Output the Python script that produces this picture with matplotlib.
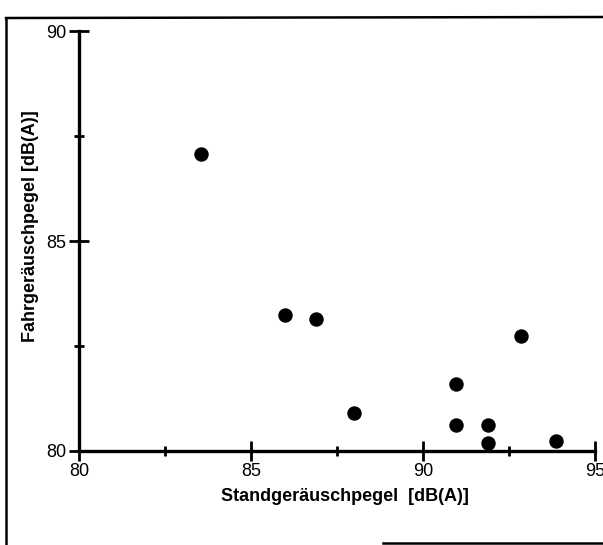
import matplotlib.pyplot as plt
from matplotlib.lines import Line2D

plt.rcParams['font.family'] = ['Liberation Sans', 'DejaVu Sans']

# Standgeräuschpegel vs. Fahrgeräuschpegel, dB(A)
stand = [83.55, 86.0, 86.9, 88.0, 90.95, 90.95, 91.9, 91.9, 92.85, 93.85]
fahr = [87.07, 83.24, 83.15, 80.9, 81.6, 80.62, 80.62, 80.2, 82.74, 80.24]

fig = plt.figure(figsize=(6.03, 5.45), dpi=100)
ax = fig.add_axes([0.131, 0.1725, 0.856, 0.7705])

ax.scatter(stand, fahr, s=88, color='black', zorder=3, clip_on=False)

ax.set_xlim(80, 95)
ax.set_ylim(80, 90)
ax.set_xticks([80, 85, 90, 95])
ax.set_yticks([80, 85, 90])
ax.set_xticks([82.5, 87.5, 92.5], minor=True)
ax.set_yticks([82.5, 87.5], minor=True)

for s in ['top', 'right']:
    ax.spines[s].set_visible(False)
for s in ['left', 'bottom']:
    ax.spines[s].set_linewidth(2.4)

ax.tick_params(which='major', direction='inout', length=14, width=2, labelsize=13, pad=2)
ax.tick_params(which='minor', direction='inout', length=7, width=2)

ax.set_xlabel('Standgeräuschpegel  [dB(A)]', fontsize=13, fontweight='bold')
ax.set_ylabel('Fahrgeräuschpegel [dB(A)]', fontsize=13, fontweight='bold')
ax.xaxis.set_label_coords(0.515, -0.088)
ax.yaxis.set_label_coords(-0.078, 0.536)

# frame of the scanned figure
fig.add_artist(Line2D([6/603, 6/603], [0, 1 - 18/545], color='black', lw=1.8, transform=fig.transFigure))
fig.add_artist(Line2D([6/603, 1], [1 - 18/545, 1 - 17/545], color='black', lw=1.8, transform=fig.transFigure))
fig.add_artist(Line2D([383/603, 1], [1 - 543/545, 1 - 543/545], color='black', lw=1.8, transform=fig.transFigure))

fig.savefig('out.png', dpi=100)
